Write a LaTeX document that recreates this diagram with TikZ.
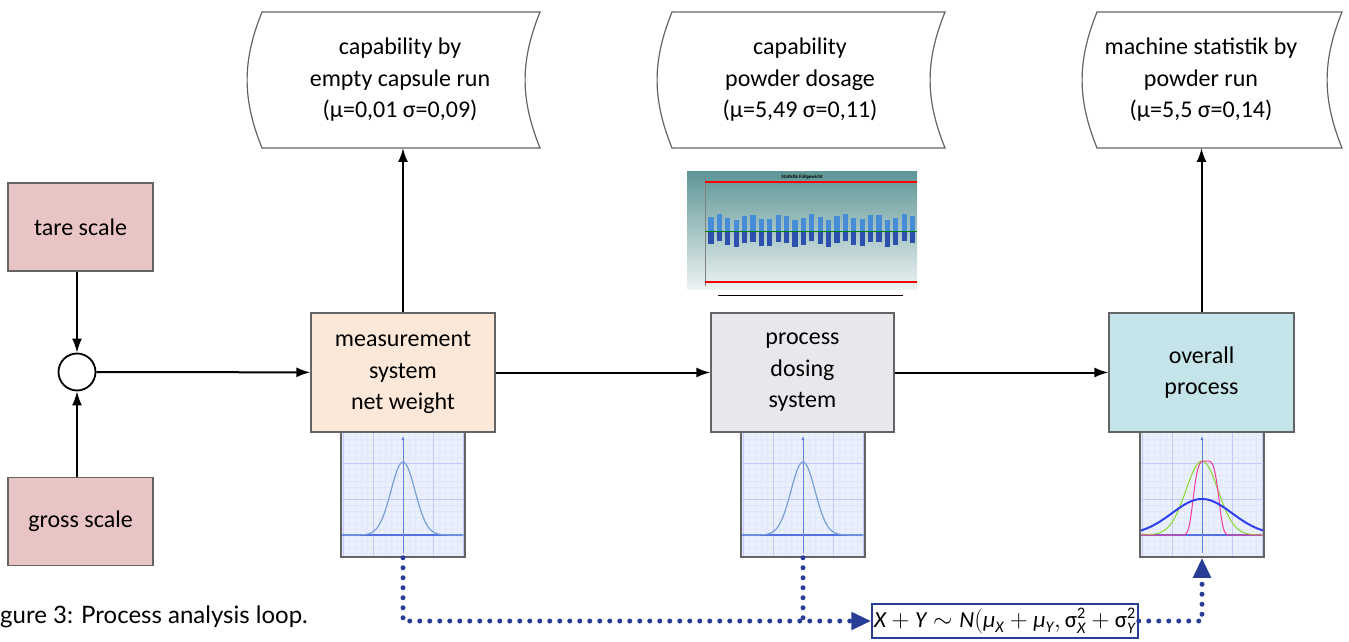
\documentclass[tikz,border=0pt]{standalone}
\usepackage{amsmath}
\usepackage{fontspec}
\setmainfont{Carlito}
\newfontfamily\capfont{Lato}
\usetikzlibrary{arrows.meta,calc,positioning}
\definecolor{scalefill}{RGB}{232,196,196}
\definecolor{measfill}{RGB}{252,232,216}
\definecolor{dosefill}{RGB}{232,232,236}
\definecolor{allfill}{RGB}{196,228,234}
\definecolor{edgegray}{RGB}{100,100,100}
\definecolor{dotblue}{RGB}{40,62,150}
\definecolor{gridbg}{RGB}{232,240,250}
\definecolor{curveblue}{RGB}{120,160,215}
\definecolor{chartteal}{RGB}{95,150,150}
\definecolor{bardark}{RGB}{45,80,175}
\definecolor{barlight}{RGB}{70,140,215}
\tikzset{
  src/.style={rectangle, draw=edgegray, line width=1.2pt, fill=scalefill, minimum width=145pt, minimum height=88pt},
  blk/.style={rectangle, draw=edgegray, line width=1.2pt, minimum width=184pt, minimum height=119pt, align=center},
  store/.style={align=center},
  storeline/.style={draw=edgegray, line width=1.2pt},
  sumpt/.style={circle, draw=black, line width=1.8pt, fill=white, minimum size=37pt, inner sep=0pt},
  thumb/.style={rectangle, draw=edgegray, line width=1.5pt, minimum width=124pt, minimum height=125pt, inner sep=0pt},
  arr/.style={-{Latex[length=14pt,width=10pt]}, draw=black, line width=2pt},
  dotline/.style={draw=dotblue, line width=5pt, line cap=round, dash pattern=on 0pt off 10pt},
  dotarr/.style={dotline, -{Triangle[length=20pt,width=17pt,fill=dotblue]}},
  gridmin/.style={draw=blue!10, line width=0.4pt},
  gridmaj/.style={draw=blue!22, line width=0.6pt},
}
\begin{document}
\begin{tikzpicture}[x=1pt, y=1pt, every node/.style={font=\fontsize{24}{31.5}\selectfont}]
\useasboundingbox (0,0) rectangle (1349,641);

% scales and summing point
\node[src] (tare) at (80.5,414) {tare scale};
\node[src] (gross) at (80.5,119.5) {gross scale};
\node[sumpt] (sum) at (77,269) {};

% process blocks
\node[blk, fill=measfill] (meas) at (403,268.5) {measurement\\system\\net weight};
\node[blk, fill=dosefill, minimum width=183pt] (dose) at (802.5,268.5) {process\\dosing\\system};
\node[blk, fill=allfill, minimum width=185pt] (overall) at (1201.5,268.5) {overall\\process};

% stored results
\node[store] (cap1) at (400,561) {capability by\\empty capsule run\\(μ=0,01 σ=0,09)};
\node[store] (cap2) at (800,561) {capability\\powder dosage\\(μ=5,49 σ=0,11)};
\node[store] (cap3) at (1201,561) {machine statistik by\\powder run\\(μ=5,5 σ=0,14)};
\draw[storeline] ($(cap1)+(-138,68)$) to[bend right=22] ($(cap1)+(-138,-68)$) -- ($(cap1)+(140,-68)$) to[bend left=22] ($(cap1)+(140,68)$) -- cycle;
\draw[storeline] ($(cap2)+(-128,68)$) to[bend right=22] ($(cap2)+(-128,-68)$) -- ($(cap2)+(145,-68)$) to[bend left=22] ($(cap2)+(145,68)$) -- cycle;
\draw[storeline] ($(cap3)+(-104,68)$) to[bend right=22] ($(cap3)+(-104,-68)$) -- ($(cap3)+(141,-68)$) to[bend left=22] ($(cap3)+(141,68)$) -- cycle;
\coordinate (cap1b) at ($(cap1)+(0,-68)$);
\coordinate (cap3b) at ($(cap3)+(0,-68)$);

% distribution thumbnails
\node[thumb] (th1) at (403,146.5) {};
\node[thumb] (th2) at (803,146.5) {};
\node[thumb] (th3) at (1202,146.5) {};
\foreach \cx in {403,803,1202} {
  \fill[gridbg] (\cx-61,85) rectangle (\cx+61,208);
  \foreach \gx in {-60,-54,...,60} \draw[gridmin] (\cx+\gx,85) -- (\cx+\gx,208);
  \foreach \gy in {88,94,...,206} \draw[gridmin] (\cx-61,\gy) -- (\cx+61,\gy);
  \foreach \gx in {-60,-30,30,60} \draw[gridmaj] (\cx+\gx,85) -- (\cx+\gx,208);
  \foreach \gy in {106,142,178} \draw[gridmaj] (\cx-61,\gy) -- (\cx+61,\gy);
  \draw[curveblue!70!blue, line width=1.4pt, -{Latex[length=4pt]}] (\cx-61,106) -- (\cx+61,106);
  \draw[curveblue!80!blue, line width=0.7pt, -{Latex[length=4pt]}] (\cx,88) -- (\cx,205);
}
\draw[curveblue, line width=1.2pt] plot[domain=-61:61, samples=70, smooth] ({403+\x},{106+73*exp(-(\x*\x)/288)});
\draw[curveblue, line width=1.2pt] plot[domain=-61:61, samples=70, smooth] ({803+\x},{106+73*exp(-(\x*\x)/288)});
\draw[green!45!yellow!70!gray, line width=1pt] plot[domain=-61:61, samples=70, smooth] ({1202+\x},{106+74*exp(-(\x*\x)/512)});
\draw[magenta!70!pink, line width=1pt] plot[domain=-61:61, samples=90, smooth] ({1202+\x},{106+74*exp(-min(((\x-4)*(\x-4)/196)*((\x-4)*(\x-4)/196),10))});
\draw[blue!60!curveblue, line width=2pt] plot[domain=-61:61, samples=70, smooth] ({1202+\x},{106+36*exp(-(\x*\x)/1800)});

% dosing chart
\shade[top color=chartteal, bottom color=chartteal!12] (687,352) rectangle (917,469);
\draw[gray, line width=0.5pt] (705,355) -- (705,464);
\draw[red, line width=1.2pt] (705,459) -- (917,459);
\draw[red, line width=1.2pt] (705,359) -- (917,359);
\node[font=\fontsize{5}{5}\selectfont\bfseries] (ctitle) at (802,464) {Statistik Füllgewicht};
\foreach \i in {0,...,24} {
  \pgfmathsetmacro{\bx}{711+\i*8.4}
  \pgfmathsetmacro{\bd}{3*sin(\i*97)}
  \fill[bardark] (\bx-2.6,{397+\bd}) rectangle (\bx+2.6,410);
  \fill[barlight] (\bx-2.6,410) rectangle (\bx+2.6,{424+\bd});
}
\draw[green!50!black, line width=0.6pt] (705,410) -- (917,410);
\draw[black, line width=0.8pt] (718,346) -- (903,346);

% signal flow
\draw[arr] (tare.south -| sum) -- (sum);
\draw[arr] (gross.north -| sum) -- (sum);
\draw[arr] (sum) -- (meas);
\draw[arr] (meas) -- (dose);
\draw[arr] (dose) -- (overall);
\draw[arr] (meas.north) -- (meas.north |- cap1b);
\draw[arr] (overall.north) -- (overall.north |- cap3b);

% convolution of distributions
\node[draw=dotblue, line width=1.8pt, minimum width=264pt, minimum height=34pt, inner sep=2pt, font=\fontsize{23}{23}\selectfont] (fx) at (1005,20) {$\textit{X} + \textit{Y} \sim \textit{N}(\textit{μ}_{\textit{X}} + \textit{μ}_{\textit{Y}}, \text{σ}^{\text{2}}_{\textit{X}} + \text{σ}^{\text{2}}_{\textit{Y}}$};
\draw[dotarr] (th1.south) -- (th1.south |- fx.west) -- (fx.west);
\draw[dotline] (th2.south) -- (th2.south |- fx.west);
\draw[dotarr] (fx.east) -| (th3.south);

% caption
\node[anchor=base west, inner sep=0pt, font=\capfont\fontsize{24}{24}\selectfont] (caption) at (0,18) {gure 3: Process analysis loop.};
\end{tikzpicture}
\end{document}
